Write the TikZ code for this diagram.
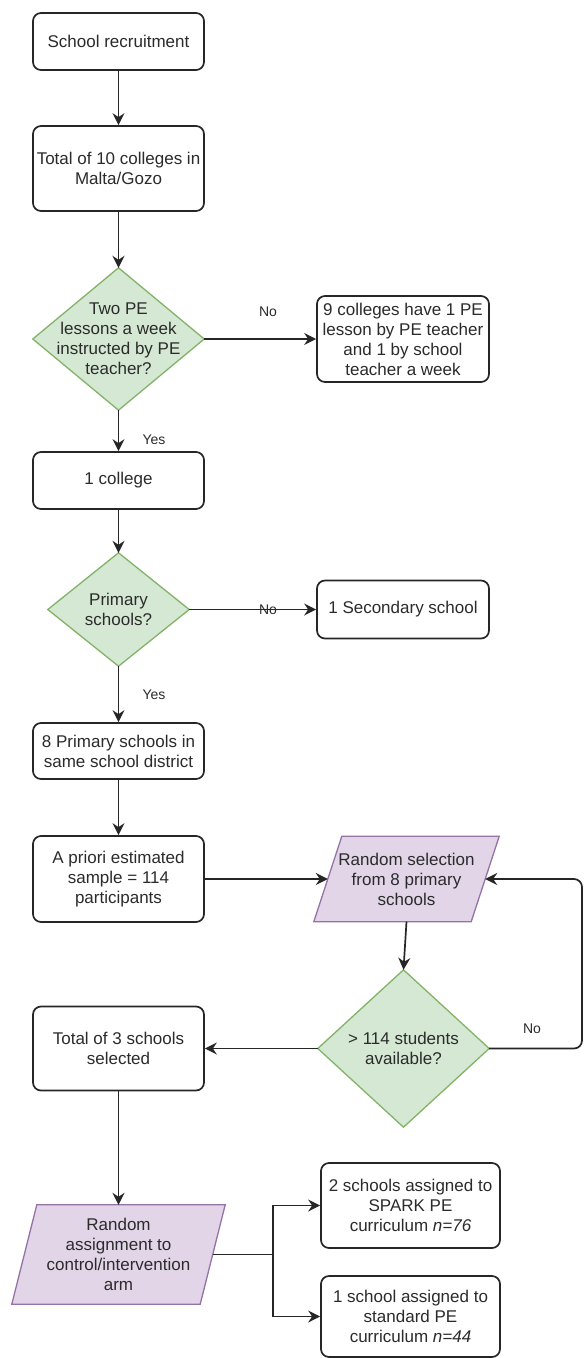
\documentclass[tikz,border=0pt]{standalone}
\usepackage{fontspec}
\setmainfont{Liberation Sans}
\usetikzlibrary{arrows.meta,backgrounds}
\definecolor{txt}{HTML}{2B2B2B}
\definecolor{gfill}{HTML}{D5E8D4}
\definecolor{gline}{HTML}{82B366}
\definecolor{pfill}{HTML}{E1D5E7}
\definecolor{pline}{HTML}{9673A6}
\begin{document}
\begin{tikzpicture}[x=1pt,y=-1pt,
  every node/.style={font=\fontsize{17}{20}\selectfont, text=txt, align=center},
  box/.style={draw=black!85, line width=1.7pt, rounded corners=8pt, fill=white, minimum width=171pt, inner sep=0pt},
  dia/.style={inner sep=0pt},
  shp/.style={inner sep=0pt},
  arr/.style={draw=black!85, line width=1.7pt, -{Stealth[length=12pt,width=12pt,inset=4pt]}},
  con/.style={draw=black!85, line width=1.7pt},
  lbl/.style={font=\fontsize{14}{16}\selectfont, inner sep=0pt}
]
\useasboundingbox (0,0) rectangle (585,1358);

% nodes
\node[box, minimum height=57pt] (b1) at (118.5,41.5) {School recruitment};
\node[box, minimum height=85pt] (b2) at (118.5,168.5) {Total of 10 colleges in\\Malta/Gozo};
\node[dia, minimum width=171pt, minimum height=142pt] (d1) at (118.5,339) {Two PE\\lessons a week\\instructed by PE\\teacher?};
\node[box, minimum width=172pt, minimum height=86pt] (n9) at (403,339) {9 colleges have 1 PE\\lesson by PE teacher\\and 1 by school\\teacher a week};
\node[box, minimum height=57pt] (b3) at (118.5,480.5) {1 college};
\node[dia, minimum width=141pt, minimum height=113pt] (d2) at (118.5,609.5) {Primary\\schools?};
\node[box, minimum width=172pt, minimum height=58pt] (sec) at (403,609.5) {1 Secondary school};
\node[box, minimum height=56pt] (b4) at (118.5,751) {8 Primary schools in\\same school district};
\node[box, minimum height=86pt] (b5) at (118.5,879) {A priori estimated\\sample = 114\\participants};
\node[shp, minimum width=157pt, minimum height=85pt] (rs) at (406.5,879) {Random selection\\from 8 primary\\schools};
\node[dia, minimum width=171pt, minimum height=157pt] (d3) at (403.5,1048.5) {> 114 students\\available?};
\node[box, minimum height=84pt] (b6) at (118.5,1048.5) {Total of 3 schools\\selected};
\node[shp, minimum width=188pt, minimum height=99pt] (ra) at (118.5,1254.5) {Random\\assignment to\\control/intervention\\arm};
\node[box, minimum width=179pt, minimum height=85pt] (s1) at (410.5,1205.5) {2 schools assigned to\\SPARK PE\\curriculum \textit{n=76}};
\node[box, minimum width=179pt, minimum height=81pt] (s2) at (410.5,1316.5) {1 school assigned to\\standard PE\\curriculum \textit{n=44}};

% shapes behind text
\begin{scope}[on background layer]
  \fill[white] (0,0) rectangle (585,1358);
  \foreach \n in {d1,d2,d3}
    \filldraw[fill=gfill, draw=gline, line width=1.3pt] (\n.north) -- (\n.east) -- (\n.south) -- (\n.west) -- cycle;
  \foreach \n/\s in {rs/14,ra/12.5}
    \filldraw[fill=pfill, draw=pline, line width=1.3pt]
      ([xshift=-\s pt]\n.south west) -- ([xshift=-\s pt]\n.south east)
      -- ([xshift=\s pt]\n.north east) -- ([xshift=\s pt]\n.north west) -- cycle;
\end{scope}

% labels
\node[lbl] (no1) at (268,312) {No};
\node[lbl] (yes1) at (154,440) {Yes};
\node[lbl] (no2) at (268,610) {No};
\node[lbl] (yes2) at (154,695) {Yes};
\node[lbl] (no3) at (532,1029) {No};

% connectors
\draw[arr] (b1) -- (b2);
\draw[arr] (b2) -- (d1);
\draw[arr] (d1.east) -- (n9.west);
\draw[arr] (d1.south) -- (b3.north);
\draw[arr] (b3) -- (d2);
\draw[arr] (d2.east) -- (sec.west);
\draw[arr] (d2.south) -- (b4.north);
\draw[arr] (b4) -- (b5);
\draw[arr] (b5.east) -- (rs.west);
\draw[arr] (rs.south) -- (d3.north);
\draw[arr] (d3.west) -- (b6.east);
\coordinate (loop) at (582,1048.5);
\draw[arr, rounded corners=8pt] (d3.east) -- (loop) |- (rs.east);
\draw[arr] (b6.south) -- (ra.north);
\coordinate (split) at (273,1254.5);
\draw[con] (ra.east) -- (split);
\draw[arr] (split) |- (s1.west);
\draw[arr] (split) |- (s2.west);
\end{tikzpicture}
\end{document}
